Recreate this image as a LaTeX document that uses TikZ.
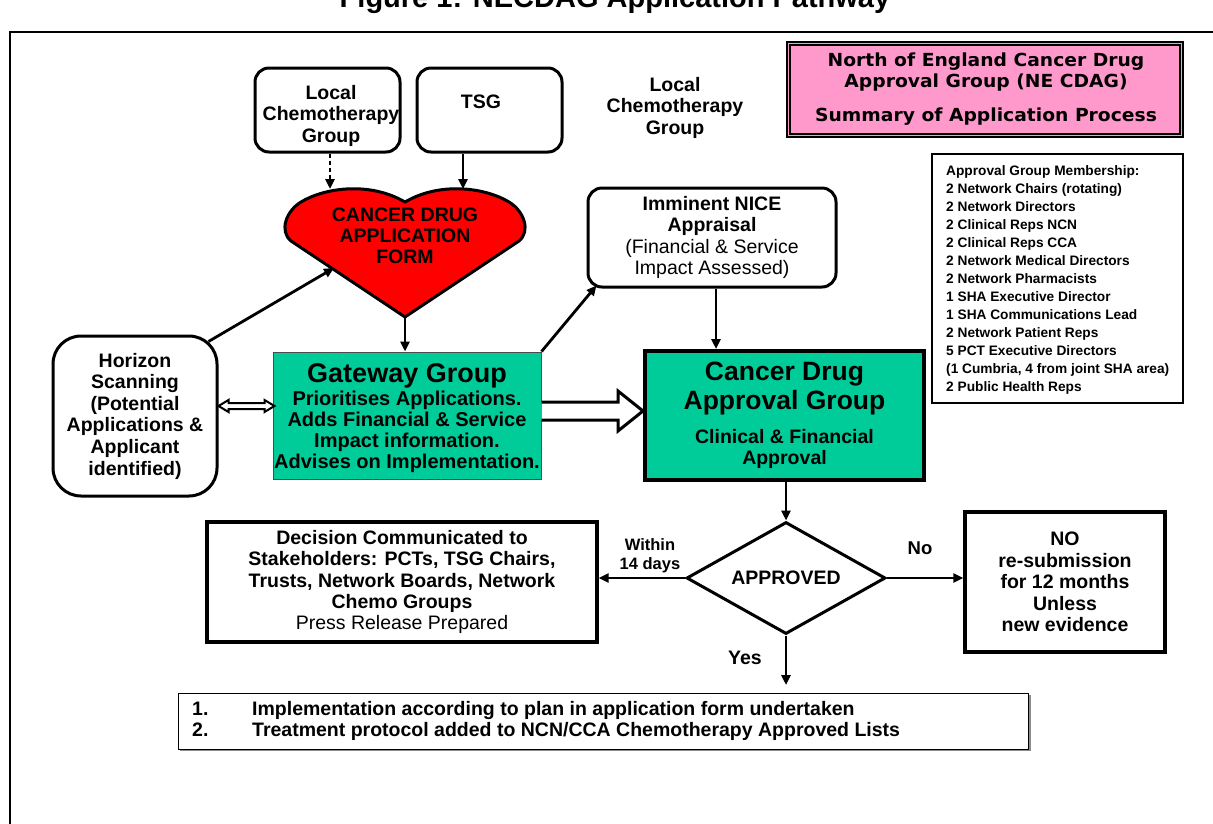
\documentclass[tikz,border=0pt]{standalone}
\usepackage{fontspec}
\setmainfont{Liberation Sans}
\newfontfamily\tah[FakeStretch=1.04]{DejaVu Sans}
\usetikzlibrary{shapes.geometric,arrows.meta,calc}
\definecolor{tealbox}{RGB}{0,204,153}
\definecolor{pinkbox}{RGB}{255,153,204}
\definecolor{heartred}{RGB}{255,0,0}
\newcommand{\fs}[2]{\fontsize{#1}{#2}\selectfont}
\begin{document}
\begin{tikzpicture}[x=1pt,y=-1pt,
  rbox/.style={draw, line width=3pt, rounded corners=14pt, fill=white, inner sep=0pt},
  sqbox/.style={draw, line width=3.2pt, fill=white, inner sep=0pt},
  arr/.style={line width=2.8pt, -{Triangle[length=10pt,width=9pt]}},
  lbl/.style={inner sep=0pt, align=center},
  bodyfont/.style={font=\fs{19.5}{21.5}\bfseries},
]
\useasboundingbox (0,0) rectangle (1213,823);
% frame and title
\draw[line width=2pt] (10,840) -- (10,32) -- (1230,32);
\node[font=\fs{29}{32}\bfseries, anchor=base, inner sep=0pt] (title) at (615,7) {Figure 1: NECDAG Application Pathway};

% top boxes
\node[rbox, minimum width=145pt, minimum height=84pt] (lcg) at (327.5,110) {};
\node[lbl, bodyfont] (lcgT) at (331,115.5) {Local\\Chemotherapy\\Group};
\node[rbox, minimum width=145pt, minimum height=84pt] (tsg) at (489.5,110) {};
\node[lbl, bodyfont] (tsgT) at (481,102) {TSG};
\node[lbl, bodyfont] (loc2) at (675,107.5) {Local\\Chemotherapy\\Group};

% pink title box
\node[draw, line width=2pt, fill=pinkbox, minimum width=396pt, minimum height=95pt, inner sep=0pt] (pink) at (985,89.5) {};
\draw[line width=1.2pt] ($(pink.north west)+(4,4)$) rectangle ($(pink.south east)+(-4,-4)$);
\node[lbl, font=\tah\fs{18}{21}\bfseries] (pinkT) at (986,89.5) {North of England Cancer Drug\\Approval Group (NE CDAG)\\[13pt]Summary of Application Process};

% heart
\coordinate (heartTip) at (405,317);
\draw[line width=3pt, fill=heartred] (heartTip) -- (291,241)
  .. controls (279,231) and (286,211) .. (301,202)
  .. controls (324,188) and (369,181) .. (405,202)
  .. controls (441,181) and (486,188) .. (509,202)
  .. controls (524,211) and (531,231) .. (519,241) -- cycle;
\node[lbl, font=\fs{19.5}{21}\bfseries] (heart) at (405,236) {CANCER DRUG\\APPLICATION\\FORM};
\coordinate (heartL) at (334,268);
\coordinate (heartA) at (330,189);
\coordinate (heartB) at (463,189);

% NICE
\node[rbox, minimum width=248pt, minimum height=99pt, align=center, font=\fs{19.5}{21.5}] (nice) at (712,237.5) {\bfseries Imminent NICE\\\bfseries Appraisal\\(Financial \& Service\\Impact Assessed)};

% membership
\node[draw, line width=1.2pt, fill=white, minimum width=251pt, minimum height=249pt, inner sep=0pt] (mem) at (1057.5,278.5) {};
\node[anchor=west, align=left, inner sep=0pt, font=\fs{13.7}{18}\bfseries] (memT) at (946,280) {Approval Group Membership:\\2 Network Chairs (rotating)\\2 Network Directors\\2 Clinical Reps NCN\\2 Clinical Reps CCA\\2 Network Medical Directors\\2 Network Pharmacists\\1 SHA Executive Director\\1 SHA Communications Lead\\2 Network Patient Reps\\5 PCT Executive Directors\\(1 Cumbria, 4 from joint SHA area)\\2 Public Health Reps};

% horizon
\node[draw, line width=3pt, rounded corners=28pt, fill=white, minimum width=164pt, minimum height=160pt, inner sep=0pt, align=center, font=\fs{19.5}{21.6}\bfseries] (hor) at (135,416) {Horizon\\Scanning\\(Potential\\Applications \&\\Applicant\\identified)};

% gateway
\node[draw=black!70, line width=1pt, fill=tealbox, minimum width=268pt, minimum height=127pt, inner sep=0pt, align=center, font=\fs{20}{21}\bfseries] (gw) at (407,415.5) {\rule{0pt}{24pt}{\fs{27}{21}Gateway Group}\\[2pt]Prioritises Applications.\\Adds Financial \& Service\\Impact information.\\Advises on Implementation.};

% CDAG
\node[draw, line width=4pt, fill=tealbox, minimum width=279pt, minimum height=129pt, inner sep=0pt, align=center, font=\fs{19.5}{21}\bfseries] (cdag) at (784.5,415.5) {{\fs{26.5}{21}Cancer Drug}\\[3pt]{\fs{26.5}{21}Approval Group}\\[13pt]Clinical \& Financial\\Approval};

% decision diamond
\node[draw, diamond, line width=3pt, fill=white, minimum width=199pt, minimum height=112pt, aspect=1.8, inner sep=0pt, font=\fs{19.5}{21}\bfseries] (dia) at (786,578) {APPROVED};

% decision box
\node[sqbox, minimum width=390pt, minimum height=120pt, align=center, font=\fs{19.5}{21.3}] (dec) at (402,582) {\bfseries Decision Communicated to\\\bfseries Stakeholders: PCTs, TSG Chairs,\\\bfseries Trusts, Network Boards, Network\\\bfseries Chemo Groups\\Press Release Prepared};

% NO box
\node[sqbox, minimum width=200pt, minimum height=140pt, align=center, font=\fs{19.5}{21.5}\bfseries] (nob) at (1065,582) {NO\\re-submission\\for 12 months\\Unless\\new evidence};

% labels
\node[lbl, font=\fs{16.5}{19}\bfseries] (within) at (650,556) {Within\\14 days};
\node[lbl, font=\fs{18.5}{20}\bfseries] (nolbl) at (920,548) {No};
\node[lbl, font=\fs{19.5}{20}\bfseries] (yeslbl) at (745,658) {Yes};

% bottom list
\draw[line width=2pt, black!45] (180,750) -- (1030,750) -- (1030,695);
\node[draw, line width=1pt, fill=white, minimum width=850pt, minimum height=56pt, inner sep=0pt] (list) at (603,721) {};
\node[anchor=west, align=left, inner sep=0pt, font=\fs{19.5}{20.5}\bfseries] (listT) at (192,721) {\makebox[60pt][l]{1.}Implementation according to plan in application form undertaken\\\makebox[60pt][l]{2.}Treatment protocol added to NCN/CCA Chemotherapy Approved Lists};
\coordinate (yesEnd) at (787,685);

% connectors
\draw[line width=2.8pt, dash pattern=on 4pt off 3pt, -{Triangle[length=10pt,width=9pt]}] (lcg.south -| heartA) -- (heartA);
\draw[arr] (heartB |- tsg.south) -- (heartB);
\draw[arr] (heartTip) -- (heartTip |- gw.north);
\draw[arr] ($(hor.north east)+(-10,7)$) -- (heartL);
\draw[arr] (gw.north east) -- ($(nice.south west)+(10,-3)$);
\draw[arr] (nice.south -| 716,0) -- (cdag.north -| 716,0);
\draw[arr] (cdag.south -| dia.north) -- (dia.north);
\draw[arr] (dia.west) -- (dia.west -| dec.east);
\draw[arr] (dia.east) -- (dia.east -| nob.west);
\draw[arr] (dia.south) -- (dia.south |- yesEnd);

% double arrow horizon <-> gateway
\draw[line width=2pt, fill=white, line join=miter] (hor.east |- 0,406) -- ++(10,-6) -- ++(0,3) -- ++(36,0) -- ++(0,-3) -- ++(10,6) -- ++(-10,6) -- ++(0,-3) -- ++(-36,0) -- ++(0,3) -- cycle;

% block arrow gateway -> cdag
\draw[line width=3pt, fill=white, line join=miter] (gw.east |- 0,402) -- (618,402) -- (618,391) -- (cdag.west |- 0,411) -- (618,431) -- (618,420) -- (gw.east |- 0,420);
\end{tikzpicture}
\end{document}
